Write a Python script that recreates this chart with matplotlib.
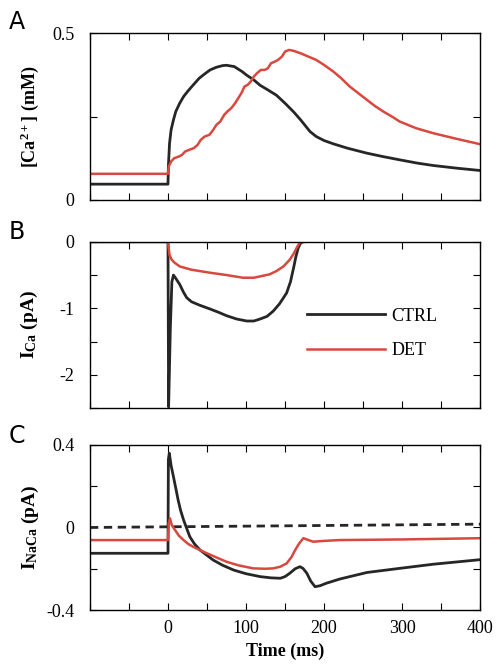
import numpy as np
import matplotlib
matplotlib.use("Agg")
import matplotlib.pyplot as plt
from matplotlib.ticker import MultipleLocator, FixedLocator, FuncFormatter

plt.rcParams['font.family'] = ['Liberation Serif', 'DejaVu Serif']
plt.rcParams['mathtext.fontset'] = 'custom'
plt.rcParams['mathtext.rm'] = 'Liberation Serif:bold'
plt.rcParams['mathtext.default'] = 'rm'

BLACK = '#262626'
RED = '#d9483e'

# panel A: [Ca2+] (mM)
ca_ctrl_t = [-100, 0, 0.5, 2, 4, 7, 10, 15, 20, 25, 32, 40, 47, 54, 62, 70, 75,
             85, 95, 101, 110, 118, 128, 139, 150, 161, 170, 182, 190, 200, 212,
             230, 255, 275, 297, 320, 340, 370, 400]
ca_ctrl = [0.047, 0.047, 0.10, 0.17, 0.21, 0.24, 0.265, 0.29, 0.31, 0.325, 0.344,
           0.365, 0.378, 0.39, 0.398, 0.403, 0.404, 0.40, 0.385, 0.374, 0.36,
           0.344, 0.33, 0.314, 0.29, 0.264, 0.24, 0.205, 0.19, 0.178, 0.168,
           0.155, 0.14, 0.13, 0.12, 0.11, 0.103, 0.095, 0.088]
ca_det_t = [-100, 0, 1, 4, 8, 14, 18, 22, 27, 33, 38, 42, 47, 53, 58, 62, 67, 72,
            76, 81, 86, 90, 94, 98, 102, 106, 110, 114, 119, 124, 128, 132, 137,
            141, 146, 150, 155, 160, 170, 180, 190, 200, 212, 222, 233, 244, 255,
            265, 276, 287, 297, 318, 340, 370, 400]
ca_det = [0.078, 0.078, 0.10, 0.115, 0.125, 0.13, 0.135, 0.145, 0.15, 0.155, 0.165,
          0.18, 0.19, 0.195, 0.21, 0.225, 0.235, 0.255, 0.265, 0.275, 0.29, 0.305,
          0.32, 0.34, 0.345, 0.355, 0.37, 0.38, 0.39, 0.39, 0.395, 0.41, 0.415,
          0.42, 0.43, 0.445, 0.45, 0.448, 0.44, 0.43, 0.42, 0.405, 0.385, 0.365,
          0.34, 0.32, 0.30, 0.282, 0.265, 0.25, 0.235, 0.215, 0.20, 0.183, 0.167]

# panel B: I_Ca (pA)
ica_ctrl_t = [-100, 0, 0.8, 3, 5, 7, 10, 15, 20, 24, 30, 40, 54, 65, 75, 88, 101,
              110, 118, 127, 135, 143, 152, 157, 161, 164, 167, 170, 173, 200, 400]
ica_ctrl = [0.0, 0.0, -2.48, -1.3, -0.6, -0.5, -0.55, -0.64, -0.76, -0.84, -0.9,
            -0.95, -1.01, -1.06, -1.11, -1.16, -1.19, -1.19, -1.16, -1.12, -1.04,
            -0.93, -0.77, -0.6, -0.39, -0.22, -0.09, -0.02, 0.0, 0.01, 0.02]
ica_det_t = [-100, 0, 2, 4.7, 8, 15, 30, 54, 75, 96, 110, 118, 130, 139, 148, 156,
             161, 165, 168, 171, 200, 400]
ica_det = [0.0, 0.0, -0.2, -0.27, -0.31, -0.37, -0.42, -0.465, -0.5, -0.54, -0.54,
           -0.52, -0.49, -0.44, -0.37, -0.27, -0.18, -0.09, -0.03, 0.0, 0.01, 0.02]

# panel C: I_NaCa (pA)
inaca_ctrl_t = [-100, 0, 0.5, 1.7, 4, 7, 10, 13, 16, 20, 24, 28, 34, 41, 50, 58,
                70, 84, 100, 118, 132, 144, 150, 156, 163, 169, 173, 178, 183,
                188.5, 195, 203, 220, 233, 255, 297, 340, 400]
inaca_ctrl = [-0.125, -0.125, 0.33, 0.36, 0.30, 0.246, 0.19, 0.133, 0.085, 0.036,
              -0.005, -0.045, -0.08, -0.109, -0.135, -0.158, -0.183, -0.206,
              -0.224, -0.238, -0.244, -0.246, -0.238, -0.222, -0.20, -0.19,
              -0.198, -0.222, -0.26, -0.287, -0.282, -0.27, -0.25, -0.238,
              -0.218, -0.198, -0.178, -0.156]
inaca_det_t = [-100, 0, 1, 2.6, 5, 9, 14, 20, 26, 32, 40, 50, 62, 75, 90, 109, 125,
               135, 144, 152, 158, 163, 168, 173.5, 178, 186, 200, 220, 300, 400]
inaca_det = [-0.061, -0.061, 0.02, 0.044, 0.01, -0.012, -0.04, -0.061, -0.08,
             -0.093, -0.108, -0.125, -0.145, -0.166, -0.183, -0.198, -0.20,
             -0.198, -0.19, -0.174, -0.145, -0.109, -0.078, -0.052, -0.058,
             -0.069, -0.065, -0.061, -0.058, -0.052]
zero_t = [-100, 400]
zero_line = [0.0, 0.016]


def style(ax, ylim, yticks, ylabels, show_x):
    ax.set_xlim(-100, 400)
    ax.set_ylim(*ylim)
    ax.xaxis.set_major_locator(MultipleLocator(50))
    if show_x:
        ax.xaxis.set_major_formatter(FuncFormatter(
            lambda v, p: '%d' % v if v >= 0 and v % 100 == 0 else ''))
    else:
        ax.set_xticklabels([])
    ax.yaxis.set_major_locator(FixedLocator(yticks))
    ax.yaxis.set_major_formatter(FuncFormatter(
        lambda v, p: ylabels.get(round(v, 3), '')))
    ax.tick_params(direction='in', top=True, right=True, length=5, width=0.8,
                   labelsize=13, pad=11)
    ax.tick_params(axis='x', pad=7)
    for s in ax.spines.values():
        s.set_linewidth(1.0)


fig = plt.figure(figsize=(4.97, 6.66), dpi=100)
axA = fig.add_axes([0.181, 0.700, 0.785, 0.250])
axB = fig.add_axes([0.181, 0.387, 0.785, 0.250])
axC = fig.add_axes([0.181, 0.084, 0.785, 0.248])

axA.plot(ca_ctrl_t, ca_ctrl, color=BLACK, lw=2.0)
axA.plot(ca_det_t, ca_det, color=RED, lw=1.8)
style(axA, (0, 0.5), [0, 0.25, 0.5], {0.0: '0', 0.5: '0.5'}, False)
axA.set_ylabel('[Ca$^{2+}$] (mM)', fontsize=13, fontweight='bold', labelpad=8)

axB.plot(ica_ctrl_t, ica_ctrl, color=BLACK, lw=2.0, label='CTRL')
axB.plot(ica_det_t, ica_det, color=RED, lw=1.8, label='DET')
style(axB, (-2.5, 0), [0, -0.5, -1, -1.5, -2, -2.5],
      {0.0: '0', -1.0: '-1', -2.0: '-2'}, False)
axB.set_ylabel('I$_{\\mathrm{Ca}}$ (pA)', fontsize=14, fontweight='bold', labelpad=14)
axB.legend(loc='center left', bbox_to_anchor=(0.515, 0.45), frameon=False,
           fontsize=13, handlelength=4.3, handletextpad=0.35, labelspacing=0.95)

axC.plot(zero_t, zero_line, color=BLACK, lw=2.0, dashes=(3, 2))
axC.plot(inaca_ctrl_t, inaca_ctrl, color=BLACK, lw=2.0)
axC.plot(inaca_det_t, inaca_det, color=RED, lw=1.8)
style(axC, (-0.4, 0.4), [-0.4, -0.2, 0, 0.2, 0.4],
      {-0.4: '-0.4', 0.0: '0', 0.4: '0.4'}, True)
axC.set_ylabel('I$_{\\mathrm{NaCa}}$ (pA)', fontsize=14, fontweight='bold', labelpad=4)
axC.set_xlabel('Time (ms)', fontsize=13, fontweight='bold', labelpad=4)

for lab, y in [('A', 1 - 22 / 666), ('B', 1 - 232 / 666), ('C', 1 - 436 / 666)]:
    fig.text(0.018, y, lab, fontsize=17, family='DejaVu Sans', va='center')

fig.savefig('out.png', dpi=100)
